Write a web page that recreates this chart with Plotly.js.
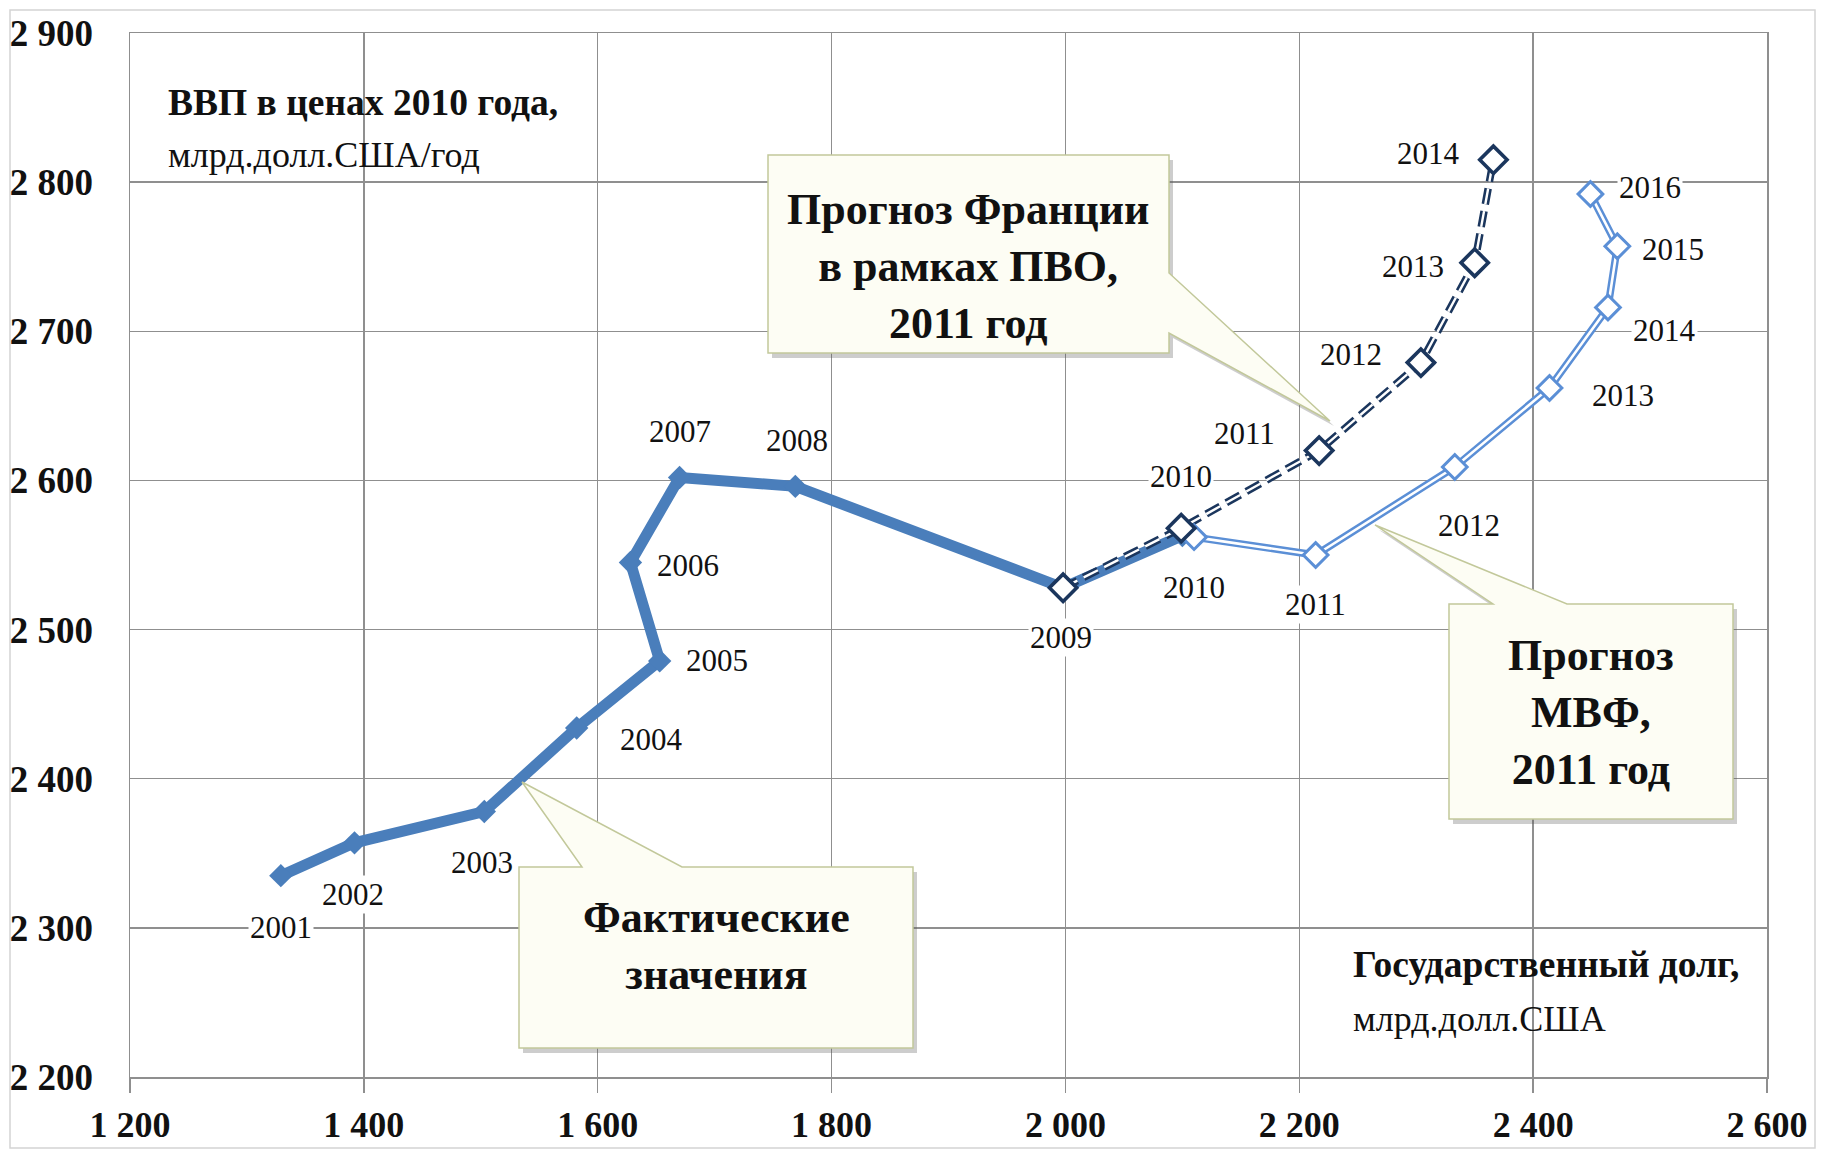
<!DOCTYPE html>
<html><head><meta charset="utf-8">
<script src="https://cdn.plot.ly/plotly-3.0.1.min.js"></script>
<style>html,body{margin:0;padding:0;background:#fff;} #chart{width:1822px;height:1151px;}</style>
</head><body><div id="chart"></div>
<script>
// ---- data ----
const actualYears = [2001, 2002, 2003, 2004, 2005, 2006, 2007, 2008, 2009, 2010];
const actualDebt  = [1329, 1392, 1503, 1582, 1653, 1628, 1670, 1769, 1998, 2100];
const actualGdp   = [2335, 2357, 2378, 2434, 2479, 2545, 2602, 2596, 2528, 2563];

const franceYears = [2009, 2010, 2011, 2012, 2013, 2014];
const franceDebt  = [1998, 2099, 2217, 2304, 2350, 2366];
const franceGdp   = [2528, 2568, 2620, 2679, 2746, 2815];

const imfYears = [2010, 2011, 2012, 2013, 2014, 2015, 2016];
const imfDebt  = [2110, 2214, 2333, 2414, 2464, 2472, 2449];
const imfGdp   = [2562, 2550, 2609, 2662, 2716, 2757, 2792];

const yTitle1 = 'ВВП в ценах 2010 года,';
const yTitle2 = 'млрд.долл.США/год';
const xTitle1 = 'Государственный долг,';
const xTitle2 = 'млрд.долл.США';
const calloutFrance = 'Прогноз Франции<br>в рамках ПВО,<br>2011 год';
const calloutImf = 'Прогноз<br>МВФ,<br>2011 год';
const calloutActual = 'Фактические<br>значения';

// ---- label placement (pixel offsets, style only) ----
const actualLabelShift = [[0,-52],[-2,-52],[-2,-51],[75,-11],[57,0],[58,-3],[0,46],[2,46],[-2,-50],null];
const franceLabelShift = [null,[0,52],[-75,17],[-70,8],[-62,-4],[-65,6]];
const imfLabelShift    = [[0,-50],[0,-49],[14,-58],[73,-8],[57,-23],[56,-3],[60,7]];

// ---- geometry helpers ----
const W = 1822, H = 1151, M = {l:130, r:55, t:33, b:74};
const PW = W - M.l - M.r, PH = H - M.t - M.b;
const px = x => (x - M.l) / PW;
const py = y => (H - M.b - y) / PH;
function pathFrom(pts, dx, dy) {
  dx = dx || 0; dy = dy || 0;
  return 'M' + pts.map(p => px(p[0] + dx).toFixed(5) + ',' + py(p[1] + dy).toFixed(5)).join(' L') + ' Z';
}

const FONT = '"Liberation Serif", "Times New Roman", serif';
const C_ACT = '#4a7ebb', C_FR = '#1b365d', C_IMF = '#5b8fd6';

const traces = [
  // IMF double line
  {x: imfDebt, y: imfGdp, mode: 'lines', line: {color: C_IMF, width: 7.5}, hoverinfo: 'skip'},
  {x: imfDebt, y: imfGdp, mode: 'lines', line: {color: '#ffffff', width: 2.6}, hoverinfo: 'skip'},
  // actual thick line
  {x: actualDebt, y: actualGdp, mode: 'lines+markers', line: {color: C_ACT, width: 11},
   marker: {symbol: 'diamond', size: 18, color: C_ACT}, hoverinfo: 'skip'},
  // France double dashed line
  {x: franceDebt, y: franceGdp, mode: 'lines', line: {color: C_FR, width: 7.5, dash: '16px,7px'}, hoverinfo: 'skip'},
  {x: franceDebt, y: franceGdp, mode: 'lines', line: {color: '#ffffff', width: 2.4, dash: '16px,7px'}, hoverinfo: 'skip'},
  // markers
  {x: imfDebt, y: imfGdp, mode: 'markers', marker: {symbol: 'diamond', size: 19, color: '#ffffff', line: {color: C_IMF, width: 3}}, hoverinfo: 'skip'},
  {x: franceDebt, y: franceGdp, mode: 'markers', marker: {symbol: 'diamond', size: 21, color: '#ffffff', line: {color: C_FR, width: 3.6}}, hoverinfo: 'skip'}
];

const annotations = [];
function yearLabels(xs, ys, yrs, shifts) {
  yrs.forEach((yr, i) => {
    const s = shifts[i];
    if (!s) return;
    annotations.push({x: xs[i], y: ys[i], xref: 'x', yref: 'y', text: String(yr), showarrow: false,
      xshift: s[0], yshift: s[1], bgcolor: '#ffffff', borderpad: 1,
      font: {family: FONT, size: 31, color: '#111'}});
  });
}
yearLabels(actualDebt, actualGdp, actualYears, actualLabelShift);
yearLabels(franceDebt, franceGdp, franceYears, franceLabelShift);
yearLabels(imfDebt, imfGdp, imfYears, imfLabelShift);

function paperText(text, x, y, size, bold, anchor) {
  annotations.push({xref: 'paper', yref: 'paper', x: px(x), y: py(y), text: bold ? '<b>' + text + '</b>' : text,
    showarrow: false, xanchor: anchor || 'left', yanchor: 'middle', align: anchor === 'center' ? 'center' : 'left',
    font: {family: FONT, size: size, color: '#111'}});
}
paperText(yTitle1, 166, 102, 37.5, true);
paperText(yTitle2, 166, 155, 36, false);
paperText(xTitle1, 1351, 964, 37.5, true);
paperText(xTitle2, 1351, 1019, 36, false);
paperText(calloutFrance, 968, 266, 44, true, 'center');
paperText(calloutImf, 1591, 712, 44, true, 'center');
paperText(calloutActual, 716, 946, 44, true, 'center');

const boxFrance = [[768,155],[1169,155],[1169,273],[1330,421],[1169,333],[1169,353],[768,353]];
const boxImf    = [[1449,604],[1493,604],[1375,525],[1567,604],[1733,604],[1733,819],[1449,819]];
const boxActual = [[519,867],[582,867],[522,782],[682,867],[913,867],[913,1048],[519,1048]];

const shapes = [];
[boxFrance, boxImf, boxActual].forEach(b => {
  shapes.push({type: 'path', xref: 'paper', yref: 'paper', layer: 'above', path: pathFrom(b, 4, 5),
    fillcolor: 'rgba(90,90,90,0.3)', line: {width: 0}});
  shapes.push({type: 'path', xref: 'paper', yref: 'paper', layer: 'above', path: pathFrom(b),
    fillcolor: '#fdfdf4', line: {color: '#c2c89a', width: 1.5}});
});
// outer frame
shapes.push({type: 'rect', xref: 'paper', yref: 'paper', layer: 'below',
  x0: px(10), x1: px(1815), y0: py(1148), y1: py(10), line: {color: '#d4d4d4', width: 1.5}});

const axisCommon = {
  showgrid: true, gridcolor: '#8f8f8f', gridwidth: 1.5,
  showline: true, mirror: true, linecolor: '#8f8f8f', linewidth: 1.5,
  zeroline: false, tickformat: ',d',
  tickfont: {family: FONT, size: 37, color: '#111', weight: 'bold'}
};

const layout = {
  width: W, height: H, margin: M,
  paper_bgcolor: '#ffffff', plot_bgcolor: '#ffffff',
  showlegend: false, separators: ', ',
  xaxis: Object.assign({}, axisCommon, {range: [1200, 2600], dtick: 200, tick0: 1200,
    ticks: 'outside', ticklen: 14, tickcolor: '#8f8f8f', tickwidth: 1.5, ticklabelstandoff: 1,
    tickfont: {family: FONT, size: 36, color: '#111', weight: 'bold'}}),
  yaxis: Object.assign({}, axisCommon, {range: [2200, 2900], dtick: 100, tick0: 2200,
    ticks: '', ticklabelstandoff: 28}),
  annotations: annotations,
  shapes: shapes
};

Plotly.newPlot('chart', traces, layout, {staticPlot: true});
</script></body></html>
